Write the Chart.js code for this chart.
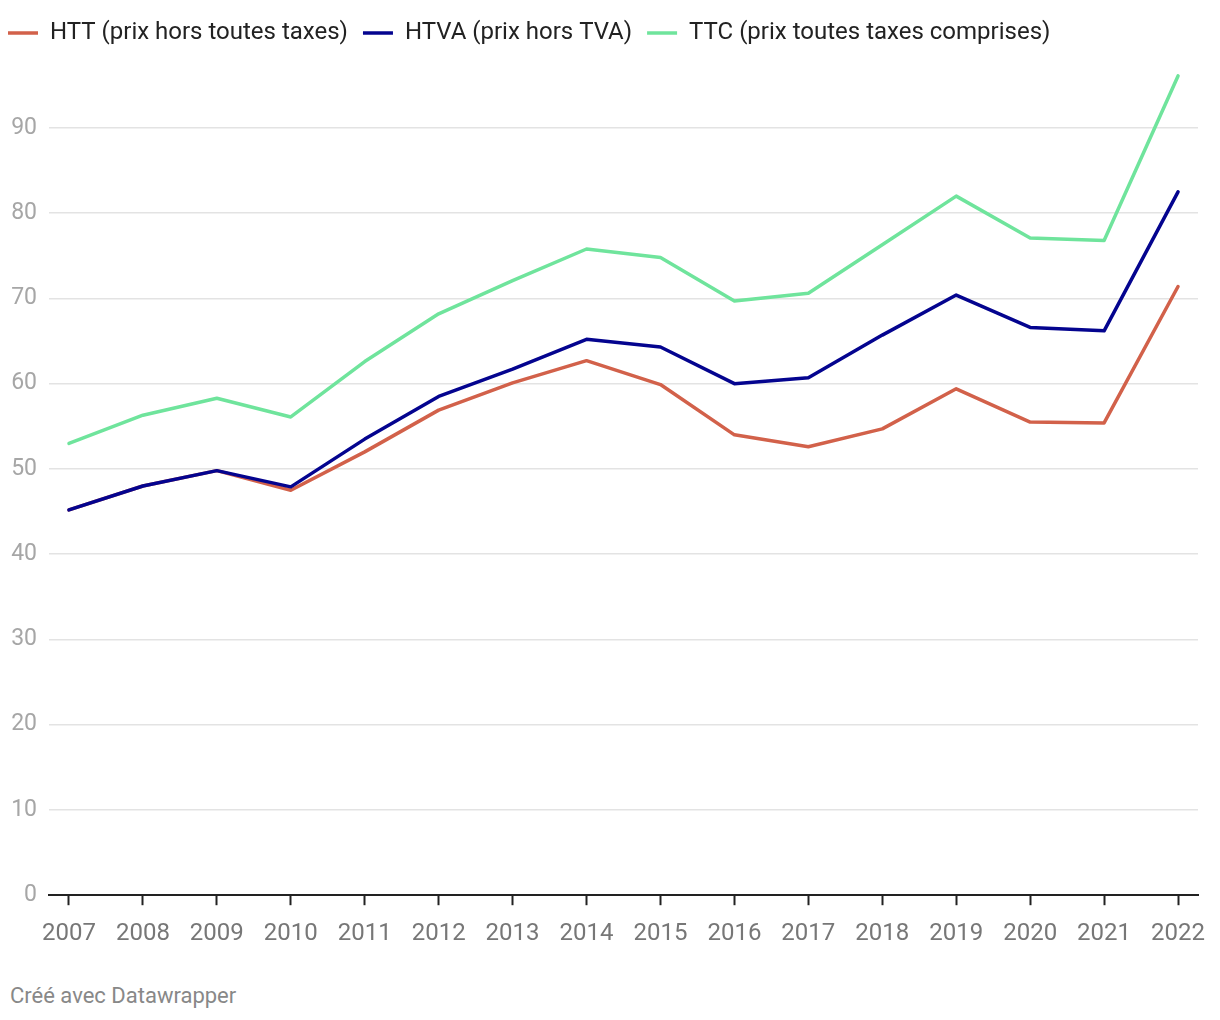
<!DOCTYPE html>
<html lang="fr">
<head>
<meta charset="utf-8">
<script src="https://cdn.jsdelivr.net/npm/chart.js@4/dist/chart.umd.min.js"></script>
<style>
  html, body { margin: 0; padding: 0; background: #fff; }
  #wrap { position: relative; width: 1220px; height: 962px; }
  #footer {
    position: absolute; left: 10px; top: 983px;
    font-family: Roboto, sans-serif; font-size: 22px; color: #888;
  }
</style>
</head>
<body>
<div id="wrap"><canvas id="prixChart"></canvas></div>
<div id="footer">Créé avec Datawrapper</div>
<script>
// ====== DONNEES ======
const annees = [2007, 2008, 2009, 2010, 2011, 2012, 2013, 2014, 2015, 2016, 2017, 2018, 2019, 2020, 2021, 2022];
const htt  = [45.2, 48.0, 49.8, 47.5, 52.0, 56.9, 60.1, 62.7, 59.9, 54.0, 52.6, 54.7, 59.4, 55.5, 55.4, 71.4];
const htva = [45.2, 48.0, 49.8, 47.9, 53.5, 58.5, 61.7, 65.2, 64.3, 60.0, 60.7, 65.7, 70.4, 66.6, 66.2, 82.5];
const ttc  = [53.0, 56.3, 58.3, 56.1, 62.6, 68.2, 72.1, 75.8, 74.8, 69.7, 70.6, 76.3, 82.0, 77.1, 76.8, 96.1];
const yTicks = [0, 10, 20, 30, 40, 50, 60, 70, 80, 90];
// =====================

const toPoints = (vals) => vals.map((v, i) => ({ x: annees[i], y: v }));

const serie = (label, vals, color, order) => ({
    label: label,
    data: toPoints(vals),
    borderColor: color,
    backgroundColor: color,
    borderWidth: 3.5,
    pointRadius: 0,
    tension: 0,
    borderJoinStyle: 'round',
    borderCapStyle: 'round',
    order: order
});

// espace supplementaire sous la legende
const legendMargin = {
    id: 'legendMargin',
    beforeInit(chart) {
        const fitOrig = chart.legend.fit;
        chart.legend.fit = function () {
            fitOrig.bind(chart.legend)();
            this.height += 9;
        };
    }
};

const ctx = document.getElementById('prixChart').getContext('2d');
new Chart(ctx, {
    type: 'line',
    data: {
        datasets: [
            serie('HTT (prix hors toutes taxes)', htt, '#d2614a', 1),
            serie('HTVA (prix hors TVA)', htva, '#04048f', 0),
            serie('TTC (prix toutes taxes comprises)', ttc, '#6fe49c', 0)
        ]
    },
    plugins: [legendMargin],
    options: {
        responsive: true,
        maintainAspectRatio: false,
        animation: false,
        layout: { padding: { left: -7, right: 22, top: 6, bottom: 0 } },
        plugins: {
            legend: {
                position: 'top',
                align: 'start',
                labels: {
                    color: '#222',
                    font: { family: 'Roboto', size: 24 },
                    usePointStyle: true,
                    pointStyle: 'line',
                    pointStyleWidth: 30,
                    boxHeight: 24,
                    padding: 15,
                    sort: (a, b) => a.datasetIndex - b.datasetIndex
                }
            },
            tooltip: { enabled: false }
        },
        scales: {
            x: {
                type: 'linear',
                min: 2006.73,
                max: 2022.27,
                afterBuildTicks: (axis) => { axis.ticks = annees.map(v => ({ value: v })); },
                grid: { drawOnChartArea: false, drawTicks: true, tickLength: 10, tickColor: '#222', tickWidth: 2 },
                border: { display: true, color: '#222', width: 2 },
                ticks: {
                    color: '#777',
                    font: { family: 'Roboto', size: 24 },
                    padding: 14,
                    maxRotation: 0,
                    autoSkip: false,
                    callback: (v) => String(v)
                }
            },
            y: {
                min: 0,
                max: 97.5,
                afterBuildTicks: (axis) => { axis.ticks = yTicks.map(v => ({ value: v })); },
                afterFit: (axis) => { axis.width = 56; },
                grid: { color: '#e3e3e3', lineWidth: 1.5, drawTicks: false },
                border: { display: false },
                ticks: {
                    color: '#a6a6a6',
                    font: { family: 'Roboto', size: 23 },
                    padding: 12
                }
            }
        }
    }
});
</script>
</body>
</html>
